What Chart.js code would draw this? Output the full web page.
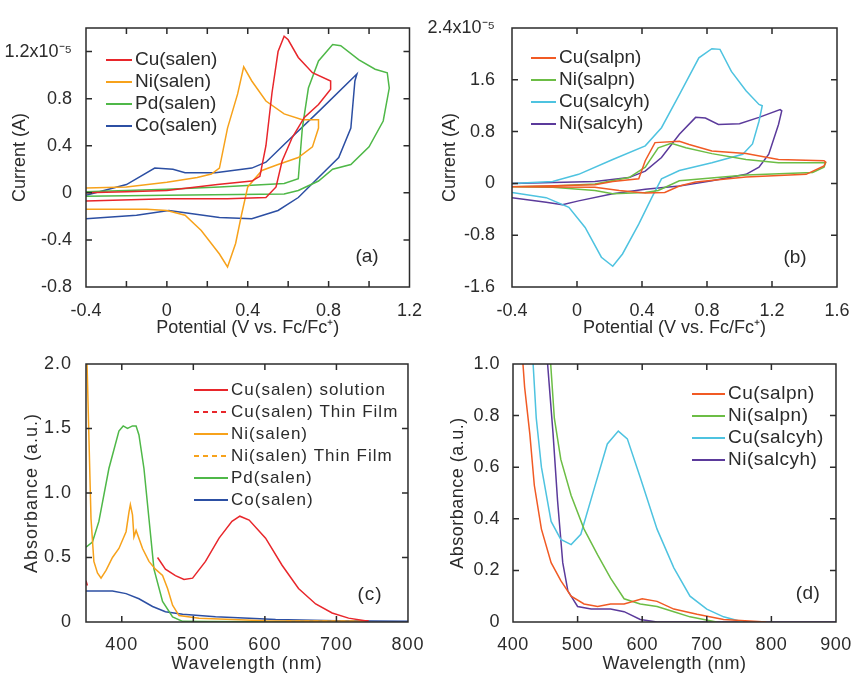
<!DOCTYPE html>
<html>
<head>
<meta charset="utf-8">
<script src="https://cdn.jsdelivr.net/npm/chart.js@4.4.0/dist/chart.umd.min.js"></script>
<style>
  body { margin: 0; background: #fff; }
  #wrap { position: relative; width: 855px; height: 675px; }
  canvas { position: absolute; }
</style>
</head>
<body>
<div id="wrap">
  <canvas id="chartA" width="427" height="340" style="left:0;top:0"></canvas>
  <canvas id="chartB" width="428" height="340" style="left:427px;top:0"></canvas>
  <canvas id="chartC" width="427" height="338" style="left:0;top:337px"></canvas>
  <canvas id="chartD" width="428" height="338" style="left:427px;top:337px"></canvas>
</div>
<script>
// ---- (a) cyclic voltammograms, current in units of 1e-5 A
var cuSalenV = [-0.4, -0.2, 0, 0.25, 0.42, 0.46, 0.49, 0.52, 0.55, 0.58, 0.6, 0.65, 0.72, 0.81, 0.81, 0.75, 0.68, 0.62, 0.57, 0.54, 0.49, 0.3, 0, -0.4];
var cuSalenI = [0.0, 0.01, 0.02, 0.07, 0.1, 0.14, 0.4, 0.85, 1.2, 1.33, 1.3, 1.15, 1.02, 0.95, 0.88, 0.75, 0.64, 0.47, 0.27, 0.05, -0.04, -0.05, -0.05, -0.07];
var niSalenV = [-0.4, -0.2, 0, 0.15, 0.22, 0.26, 0.3, 0.35, 0.38, 0.42, 0.49, 0.58, 0.67, 0.75, 0.75, 0.72, 0.65, 0.55, 0.47, 0.4, 0.37, 0.34, 0.3, 0.26, 0.17, 0.09, 0, -0.1, -0.4];
var niSalenI = [0.04, 0.05, 0.09, 0.13, 0.16, 0.21, 0.55, 0.84, 1.07, 0.95, 0.78, 0.67, 0.62, 0.62, 0.55, 0.39, 0.3, 0.24, 0.19, 0.05, -0.18, -0.43, -0.63, -0.52, -0.32, -0.19, -0.15, -0.14, -0.14];
var pdSalenV = [-0.4, 0, 0.26, 0.58, 0.65, 0.67, 0.7, 0.75, 0.82, 0.86, 0.95, 1.03, 1.09, 1.1, 1.07, 1.0, 0.91, 0.82, 0.75, 0.65, 0.58, 0, -0.4];
var pdSalenI = [0.01, 0.03, 0.05, 0.08, 0.12, 0.55, 0.89, 1.12, 1.26, 1.25, 1.13, 1.05, 1.02, 0.89, 0.61, 0.39, 0.24, 0.2, 0.1, 0.02, -0.01, -0.02, -0.03];
var coSalenV = [-0.4, -0.2, -0.06, 0.03, 0.09, 0.24, 0.42, 0.49, 0.58, 0.75, 0.94, 0.93, 0.91, 0.85, 0.75, 0.65, 0.55, 0.42, 0.26, 0.09, 0.01, -0.15, -0.4];
var coSalenI = [-0.02, 0.07, 0.21, 0.2, 0.17, 0.17, 0.21, 0.26, 0.41, 0.69, 1.01, 0.95, 0.55, 0.3, 0.13, -0.04, -0.15, -0.22, -0.21, -0.17, -0.15, -0.19, -0.22];
var aTicksX = [-0.4, -0.2, 0, 0.2, 0.4, 0.6, 0.8, 1.0, 1.2];
var aLabelsX = ['-0.4', '', '0', '', '0.4', '', '0.8', '', '1.2'];
var aTicksY = [-0.8, -0.4, 0, 0.4, 0.8, 1.2, 1.4];
var aLabelsY = ['-0.8', '-0.4', '0', '0.4', '0.8', '1.2x10\u207B\u2075', ''];

// ---- (b)
var cuSalpnV = [-0.4, 0.11, 0.22, 0.38, 0.42, 0.48, 0.63, 0.69, 0.83, 1.04, 1.24, 1.52, 1.53, 1.52, 1.41, 1.04, 0.73, 0.63, 0.54, 0.42, 0.26, 0.11, -0.4];
var cuSalpnI = [-0.05, -0.02, 0.03, 0.07, 0.35, 0.63, 0.65, 0.6, 0.5, 0.46, 0.37, 0.35, 0.33, 0.27, 0.14, 0.1, 0.02, -0.04, -0.14, -0.15, -0.11, -0.06, -0.05];
var niSalpnV = [-0.4, -0.15, 0.11, 0.32, 0.42, 0.5, 0.58, 0.67, 0.83, 1.04, 1.24, 1.53, 1.52, 1.45, 1.04, 0.63, 0.5, 0.42, 0.22, 0.11, -0.15, -0.4];
var niSalpnI = [-0.05, -0.04, -0.01, 0.09, 0.25, 0.55, 0.62, 0.55, 0.46, 0.37, 0.32, 0.32, 0.25, 0.17, 0.13, 0.04, -0.11, -0.14, -0.16, -0.11, -0.06, -0.05];
var cuSalcyhV = [-0.4, -0.15, 0.01, 0.22, 0.42, 0.52, 0.63, 0.75, 0.83, 0.88, 0.95, 1.04, 1.12, 1.14, 1.12, 1.08, 1.02, 0.83, 0.63, 0.52, 0.46, 0.38, 0.28, 0.22, 0.15, 0.05, -0.05, -0.19, -0.4];
var cuSalcyhI = [0.0, 0.03, 0.14, 0.37, 0.58, 0.86, 1.37, 1.94, 2.08, 2.07, 1.73, 1.43, 1.22, 1.2, 0.96, 0.61, 0.45, 0.32, 0.2, 0.07, -0.22, -0.63, -1.09, -1.28, -1.14, -0.68, -0.37, -0.22, -0.14];
var niSalcyhV = [-0.4, 0.11, 0.32, 0.42, 0.52, 0.63, 0.73, 0.79, 0.87, 1.0, 1.12, 1.25, 1.26, 1.24, 1.18, 1.12, 1.04, 0.83, 0.63, 0.42, 0.22, 0.01, -0.09, -0.19, -0.4];
var niSalcyhI = [0.0, 0.03, 0.09, 0.19, 0.4, 0.76, 1.02, 1.01, 0.91, 0.92, 1.02, 1.14, 1.12, 0.91, 0.45, 0.25, 0.14, 0.04, -0.04, -0.09, -0.16, -0.27, -0.33, -0.29, -0.22];
var bTicksX = [-0.4, 0, 0.4, 0.8, 1.2, 1.6];
var bLabelsX = ['-0.4', '0', '0.4', '0.8', '1.2', '1.6'];
var bTicksY = [-1.6, -0.8, 0, 0.8, 1.6, 2.4];
var bLabelsY = ['-1.6', '-0.8', '0', '0.8', '1.6', '2.4x10\u207B\u2075'];

// ---- (c) absorbance spectra
var cuSolNm = [450, 461, 475, 487, 499, 517, 536, 554, 565, 578, 601, 624, 647, 671, 694, 717, 740, 745];
var cuSolAbs = [0.5, 0.41, 0.36, 0.33, 0.34, 0.47, 0.65, 0.78, 0.82, 0.79, 0.65, 0.44, 0.26, 0.14, 0.07, 0.03, 0.01, 0.01];
var cuFilmNm = [350, 352];
var cuFilmAbs = [0.32, 0.28];
var niSolNm = [351, 354, 357, 361, 366, 371, 378, 387, 396, 406, 410, 412, 415, 417, 420, 429, 438, 447, 457, 464, 471, 480, 508, 601, 740];
var niSolAbs = [2.1, 1.45, 0.8, 0.47, 0.38, 0.34, 0.4, 0.5, 0.57, 0.7, 0.85, 0.91, 0.83, 0.66, 0.71, 0.57, 0.47, 0.41, 0.36, 0.26, 0.13, 0.05, 0.03, 0.01, 0.005];
var niFilmNm = [630, 680, 735];
var niFilmAbs = [0.006, 0.005, 0.005];
var pdNm = [350, 359, 368, 382, 396, 402, 408, 415, 420, 424, 431, 438, 445, 457, 471, 485, 520, 600, 735];
var pdAbs = [0.58, 0.62, 0.78, 1.19, 1.48, 1.52, 1.5, 1.52, 1.52, 1.45, 1.19, 0.8, 0.41, 0.16, 0.04, 0.005, 0.003, 0.002, 0.002];
var coNm = [350, 387, 406, 424, 443, 461, 485, 531, 578, 615, 700, 800];
var coAbs = [0.24, 0.24, 0.22, 0.18, 0.12, 0.08, 0.06, 0.04, 0.03, 0.02, 0.01, 0.005];
var cTicksX = [400, 500, 600, 700, 800];
var cLabelsX = ['400', '500', '600', '700', '800'];
var cTicksY = [0, 0.5, 1.0, 1.5, 2.0];
var cLabelsY = ['0', '0.5', '1.0', '1.5', '2.0'];

// ---- (d)
var cuSalpnNm = [414, 418, 426, 433, 444, 459, 474, 490, 510, 531, 551, 572, 600, 623, 649, 685, 726, 792];
var cuSalpnAbs = [1.05, 0.91, 0.73, 0.53, 0.36, 0.23, 0.16, 0.1, 0.07, 0.06, 0.07, 0.07, 0.09, 0.08, 0.05, 0.03, 0.01, 0.0];
var niSalpnNm = [457, 464, 474, 490, 510, 531, 551, 572, 597, 623, 649, 674, 715];
var niSalpnAbs = [1.05, 0.79, 0.63, 0.49, 0.36, 0.26, 0.17, 0.09, 0.07, 0.06, 0.04, 0.02, 0.0];
var cuSalcyhNm = [430, 436, 444, 459, 474, 490, 505, 526, 546, 563, 577, 597, 623, 649, 674, 700, 726, 756];
var cuSalcyhAbs = [1.05, 0.79, 0.6, 0.39, 0.32, 0.3, 0.34, 0.52, 0.69, 0.74, 0.71, 0.56, 0.36, 0.21, 0.1, 0.05, 0.02, 0.0];
var niSalcyhNm = [452, 462, 469, 477, 485, 500, 521, 551, 572, 597, 623, 900];
var niSalcyhAbs = [1.05, 0.73, 0.47, 0.23, 0.12, 0.06, 0.05, 0.05, 0.04, 0.01, 0.0, 0.0];
var dTicksX = [400, 500, 600, 700, 800, 900];
var dLabelsX = ['400', '500', '600', '700', '800', '900'];
var dTicksY = [0, 0.2, 0.4, 0.6, 0.8, 1.0];
var dLabelsY = ['0', '0.2', '0.4', '0.6', '0.8', '1.0'];

var FONT = '"Liberation Sans", Arial, sans-serif';
var INK = '#2b2b2b';
var RED = '#e8262b', ORANGE = '#f7a21b', GREEN = '#4fb848', BLUE = '#2c4fa3';
var RED2 = '#f15a24', GREEN2 = '#6cbd45', CYAN = '#4ec3e0', PURPLE = '#5b3a9b';

function pts(xs, ys) {
  return xs.map(function (x, i) { return { x: x, y: ys[i] }; });
}

function line(label, xs, ys, color, dash) {
  return {
    label: label, data: pts(xs, ys), borderColor: color, backgroundColor: color,
    showLine: true, borderWidth: 1.5, pointRadius: 0, borderDash: dash || []
  };
}

// box round the plot with inward ticks on all four sides
var framePlugin = {
  id: 'frame',
  afterDraw: function (chart) {
    var ctx = chart.ctx, a = chart.chartArea;
    var xs = chart.scales.x, ys = chart.scales.y, len = 6;
    ctx.save();
    ctx.strokeStyle = INK;
    ctx.lineWidth = 1.5;
    ctx.strokeRect(a.left, a.top, a.right - a.left, a.bottom - a.top);
    ctx.beginPath();
    xs.ticks.forEach(function (t) {
      if (t.value <= xs.min || t.value >= xs.max) return;
      var px = xs.getPixelForValue(t.value);
      ctx.moveTo(px, a.bottom); ctx.lineTo(px, a.bottom - len);
      ctx.moveTo(px, a.top); ctx.lineTo(px, a.top + len);
    });
    ys.ticks.forEach(function (t) {
      if (t.value <= ys.min || t.value >= ys.max) return;
      var py = ys.getPixelForValue(t.value);
      ctx.moveTo(a.left, py); ctx.lineTo(a.left + len, py);
      ctx.moveTo(a.right, py); ctx.lineTo(a.right - len, py);
    });
    ctx.stroke();
    ctx.restore();
  }
};

// legend inside the plot + panel tag
var legendPlugin = {
  id: 'inlegend',
  afterDraw: function (chart, args, o) {
    var ctx = chart.ctx, row = 0;
    ctx.save();
    ctx.font = o.font;
    if (o.spacing) ctx.letterSpacing = o.spacing;
    ctx.textBaseline = 'middle';
    ctx.fillStyle = INK;
    chart.data.datasets.forEach(function (ds) {
      if (!ds.label) return;
      var y = o.y + row * o.gap;
      ctx.strokeStyle = ds.borderColor;
      ctx.lineWidth = 2;
      ctx.setLineDash(ds.borderDash.length ? [5, 4] : []);
      ctx.beginPath();
      ctx.moveTo(o.x, y);
      ctx.lineTo(o.x + o.len, y);
      ctx.stroke();
      ctx.fillText(ds.label, o.x + o.len + 3, y);
      row++;
    });
    ctx.setLineDash([]);
    ctx.textAlign = 'center';
    ctx.font = '19px ' + FONT;
    ctx.fillText(o.tag, o.tagX, o.tagY);
    ctx.restore();
  }
};

var spacingPlugin = {
  id: 'spacing',
  beforeDraw: function (chart, args, o) {
    chart.ctx.letterSpacing = o.value || '0px';
  }
};

function makeChart(id, datasets, s, leg) {
  return new Chart(document.getElementById(id), {
    type: 'scatter',
    data: { datasets: datasets },
    options: {
      responsive: false,
      animation: false,
      events: [],
      layout: { padding: { top: s.top, right: s.right, left: 0, bottom: 0 } },
      plugins: {
        legend: { display: false },
        tooltip: { enabled: false },
        inlegend: leg,
        spacing: { value: s.spacing }
      },
      scales: {
        x: {
          type: 'linear', min: s.xmin, max: s.xmax,
          afterBuildTicks: function (sc) { sc.ticks = s.xticks.map(function (v) { return { value: v }; }); },
          afterFit: function (sc) { sc.height = s.xh; },
          grid: { display: false }, border: { display: false },
          ticks: {
            autoSkip: false, maxRotation: 0, padding: s.xpad,
            color: INK, font: { family: FONT, size: 18 },
            callback: function (v, i) { return s.xlabels[i]; }
          },
          title: {
            display: true, text: s.xtitle, color: INK,
            font: { family: FONT, size: 18 }, padding: { top: 0, bottom: s.xtpad }
          }
        },
        y: {
          type: 'linear', min: s.ymin, max: s.ymax,
          afterBuildTicks: function (sc) { sc.ticks = s.yticks.map(function (v) { return { value: v }; }); },
          afterFit: function (sc) { sc.width = s.yw; },
          grid: { display: false }, border: { display: false },
          ticks: {
            autoSkip: false, padding: s.ypad,
            color: INK, font: { family: FONT, size: 18 },
            callback: function (v, i) { return s.ylabels[i]; }
          },
          title: {
            display: true, text: s.ytitle, color: INK,
            font: { family: FONT, size: 18 }, padding: { top: s.ytpad, bottom: 0 }
          }
        }
      }
    },
    plugins: [spacingPlugin, framePlugin, legendPlugin]
  });
}

var potTitle = 'Potential (V vs. Fc/Fc\u207A)';

makeChart('chartA', [
  line('Cu(salen)', cuSalenV, cuSalenI, RED),
  line('Ni(salen)', niSalenV, niSalenI, ORANGE),
  line('Pd(salen)', pdSalenV, pdSalenI, GREEN),
  line('Co(salen)', coSalenV, coSalenI, BLUE)
], {
  top: 28, right: 16, yw: 86, xh: 53,
  xmin: -0.4, xmax: 1.2, ymin: -0.8, ymax: 1.4,
  xticks: aTicksX, xlabels: aLabelsX, yticks: aTicksY, ylabels: aLabelsY,
  xpad: 5, ypad: 6, xtpad: 1, ytpad: 9,
  xtitle: potTitle, ytitle: 'Current (A)'
}, { font: '19px ' + FONT, x: 106, y: 60, gap: 22, len: 26, tag: '(a)', tagX: 367, tagY: 257 });

makeChart('chartB', [
  line('Cu(salpn)', cuSalpnV, cuSalpnI, RED2),
  line('Ni(salpn)', niSalpnV, niSalpnI, GREEN2),
  line('Cu(salcyh)', cuSalcyhV, cuSalcyhI, CYAN),
  line('Ni(salcyh)', niSalcyhV, niSalcyhI, PURPLE)
], {
  top: 28, right: 18, yw: 85, xh: 53,
  xmin: -0.4, xmax: 1.6, ymin: -1.6, ymax: 2.4,
  xticks: bTicksX, xlabels: bLabelsX, yticks: bTicksY, ylabels: bLabelsY,
  xpad: 5, ypad: 9, xtpad: 1, ytpad: 12,
  xtitle: potTitle, ytitle: 'Current (A)'
}, { font: '19px ' + FONT, x: 104, y: 58, gap: 22, len: 25, tag: '(b)', tagX: 368, tagY: 258 });

makeChart('chartC', [
  line('Cu(salen) solution', cuSolNm, cuSolAbs, RED),
  line('Cu(salen) Thin Film', cuFilmNm, cuFilmAbs, RED, [5, 4]),
  line('Ni(salen)', niSolNm, niSolAbs, ORANGE),
  line('Ni(salen) Thin Film', niFilmNm, niFilmAbs, ORANGE, [5, 4]),
  line('Pd(salen)', pdNm, pdAbs, GREEN),
  line('Co(salen)', coNm, coAbs, BLUE)
], {
  top: 27, right: 17, yw: 86, xh: 53, spacing: '1px',
  xmin: 350, xmax: 800, ymin: 0, ymax: 2.0,
  xticks: cTicksX, xlabels: cLabelsX, yticks: cTicksY, ylabels: cLabelsY,
  xpad: 4, ypad: 6, xtpad: 0, ytpad: 21,
  xtitle: 'Wavelength (nm)', ytitle: 'Absorbance (a.u.)'
}, { font: '17px ' + FONT, spacing: '1px', x: 194, y: 53, gap: 22, len: 34, tag: '(c)', tagX: 370, tagY: 258 });

makeChart('chartD', [
  line('Cu(salpn)', cuSalpnNm, cuSalpnAbs, RED2),
  line('Ni(salpn)', niSalpnNm, niSalpnAbs, GREEN2),
  line('Cu(salcyh)', cuSalcyhNm, cuSalcyhAbs, CYAN),
  line('Ni(salcyh)', niSalcyhNm, niSalcyhAbs, PURPLE)
], {
  top: 27, right: 17, yw: 86, xh: 53, spacing: '0.5px',
  xmin: 400, xmax: 900, ymin: 0, ymax: 1.0,
  xticks: dTicksX, xlabels: dLabelsX, yticks: dTicksY, ylabels: dLabelsY,
  xpad: 4, ypad: 5, xtpad: 0, ytpad: 20,
  xtitle: 'Wavelength (nm)', ytitle: 'Absorbance (a.u.)'
}, { font: '19px ' + FONT, x: 265, y: 57, gap: 22, len: 33, tag: '(d)', tagX: 381, tagY: 257 });
</script>
</body>
</html>
